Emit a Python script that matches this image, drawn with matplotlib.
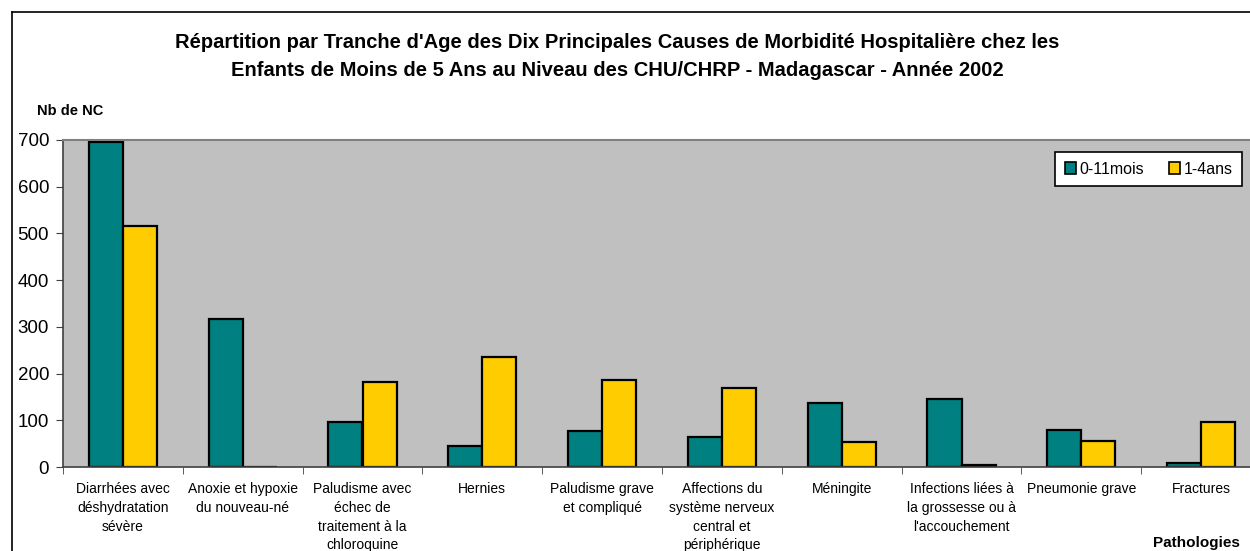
import numpy as np
import matplotlib.pyplot as plt
from matplotlib.lines import Line2D

plt.rcParams['font.family'] = ['Liberation Sans', 'DejaVu Sans']

pathologies = [
    "Diarrhées avec\ndéshydratation\nsévère",
    "Anoxie et hypoxie\ndu nouveau-né",
    "Paludisme avec\néchec de\ntraitement à la\nchloroquine",
    "Hernies",
    "Paludisme grave\net compliqué",
    "Affections du\nsystème nerveux\ncentral et\npériphérique",
    "Méningite",
    "Infections liées à\nla grossesse ou à\nl'accouchement",
    "Pneumonie grave",
    "Fractures",
]
mois_0_11 = [696, 317, 96, 45, 77, 64, 136, 146, 79, 8]
ans_1_4 = [516, 0, 183, 235, 186, 170, 54, 4, 56, 96]

teal = "#008080"
yellow = "#FFCC00"

fig = plt.figure(figsize=(12.5, 5.51), dpi=100)
ax = fig.add_axes([63 / 1250, 1 - 467 / 551, 1198 / 1250, 327 / 551])
ax.set_facecolor("#C0C0C0")

x = np.arange(len(pathologies))
w = 0.285
ax.bar(x - w / 2, mois_0_11, w, color=teal, edgecolor="black", linewidth=1.6, label="0-11mois")
ax.bar(x + w / 2, ans_1_4, w, color=yellow, edgecolor="black", linewidth=1.6, label="1-4ans")

ax.set_xlim(-0.5, len(pathologies) - 0.5)
ax.set_ylim(0, 700)
ax.set_yticks(range(0, 701, 100))
ax.tick_params(axis="y", labelsize=13.5, length=5, direction="out", pad=5, color="#404040")
ax.set_xticks(x)
ax.set_xticklabels(pathologies, fontsize=10, linespacing=1.42, va="top")
ax.tick_params(axis="x", length=0, pad=11)
# ticks on category boundaries
ax.set_xticks(np.arange(-0.5, len(pathologies)), minor=True)
ax.tick_params(axis="x", which="minor", length=5, direction="out", color="#404040")

for side in ["left", "bottom"]:
    ax.spines[side].set_color("#404040")
    ax.spines[side].set_linewidth(1.2)
ax.spines["top"].set_color("#808080")
ax.spines["top"].set_linewidth(1.5)
ax.spines["right"].set_color("#808080")

leg = ax.legend(loc="upper left", bbox_to_anchor=(1055 / 1250, 1 - 152 / 551),
                bbox_transform=fig.transFigure, ncol=2, fontsize=11.5,
                frameon=True, fancybox=False, edgecolor="black", framealpha=1,
                handlelength=0.7, handleheight=0.7, handletextpad=0.2,
                columnspacing=1.6, borderpad=0.6, borderaxespad=0)
leg.get_frame().set_linewidth(1.2)
for h in leg.legend_handles:
    h.set_linewidth(1.2)

fig.text(0.494, 1 - 43 / 551,
         "Répartition par Tranche d'Age des Dix Principales Causes de Morbidité Hospitalière chez les",
         ha="center", va="center", fontsize=14.5, fontweight="bold")
fig.text(0.494, 1 - 70 / 551,
         "Enfants de Moins de 5 Ans au Niveau des CHU/CHRP - Madagascar - Année 2002",
         ha="center", va="center", fontsize=14.5, fontweight="bold")
fig.text(37 / 1250, 1 - 111 / 551, "Nb de NC", ha="left", va="center",
         fontsize=10.5, fontweight="bold")
fig.text(1240 / 1250, 1 - 543 / 551, "Pathologies", ha="right", va="center",
         fontsize=11, fontweight="bold")

# chart area frame
fig.add_artist(Line2D([12 / 1250, 12 / 1250], [-0.1, 1 - 12 / 551], color="black", lw=1.2))
fig.add_artist(Line2D([12 / 1250, 1.1], [1 - 12 / 551, 1 - 12 / 551], color="black", lw=1.2))

fig.savefig("out.png", dpi=100)
